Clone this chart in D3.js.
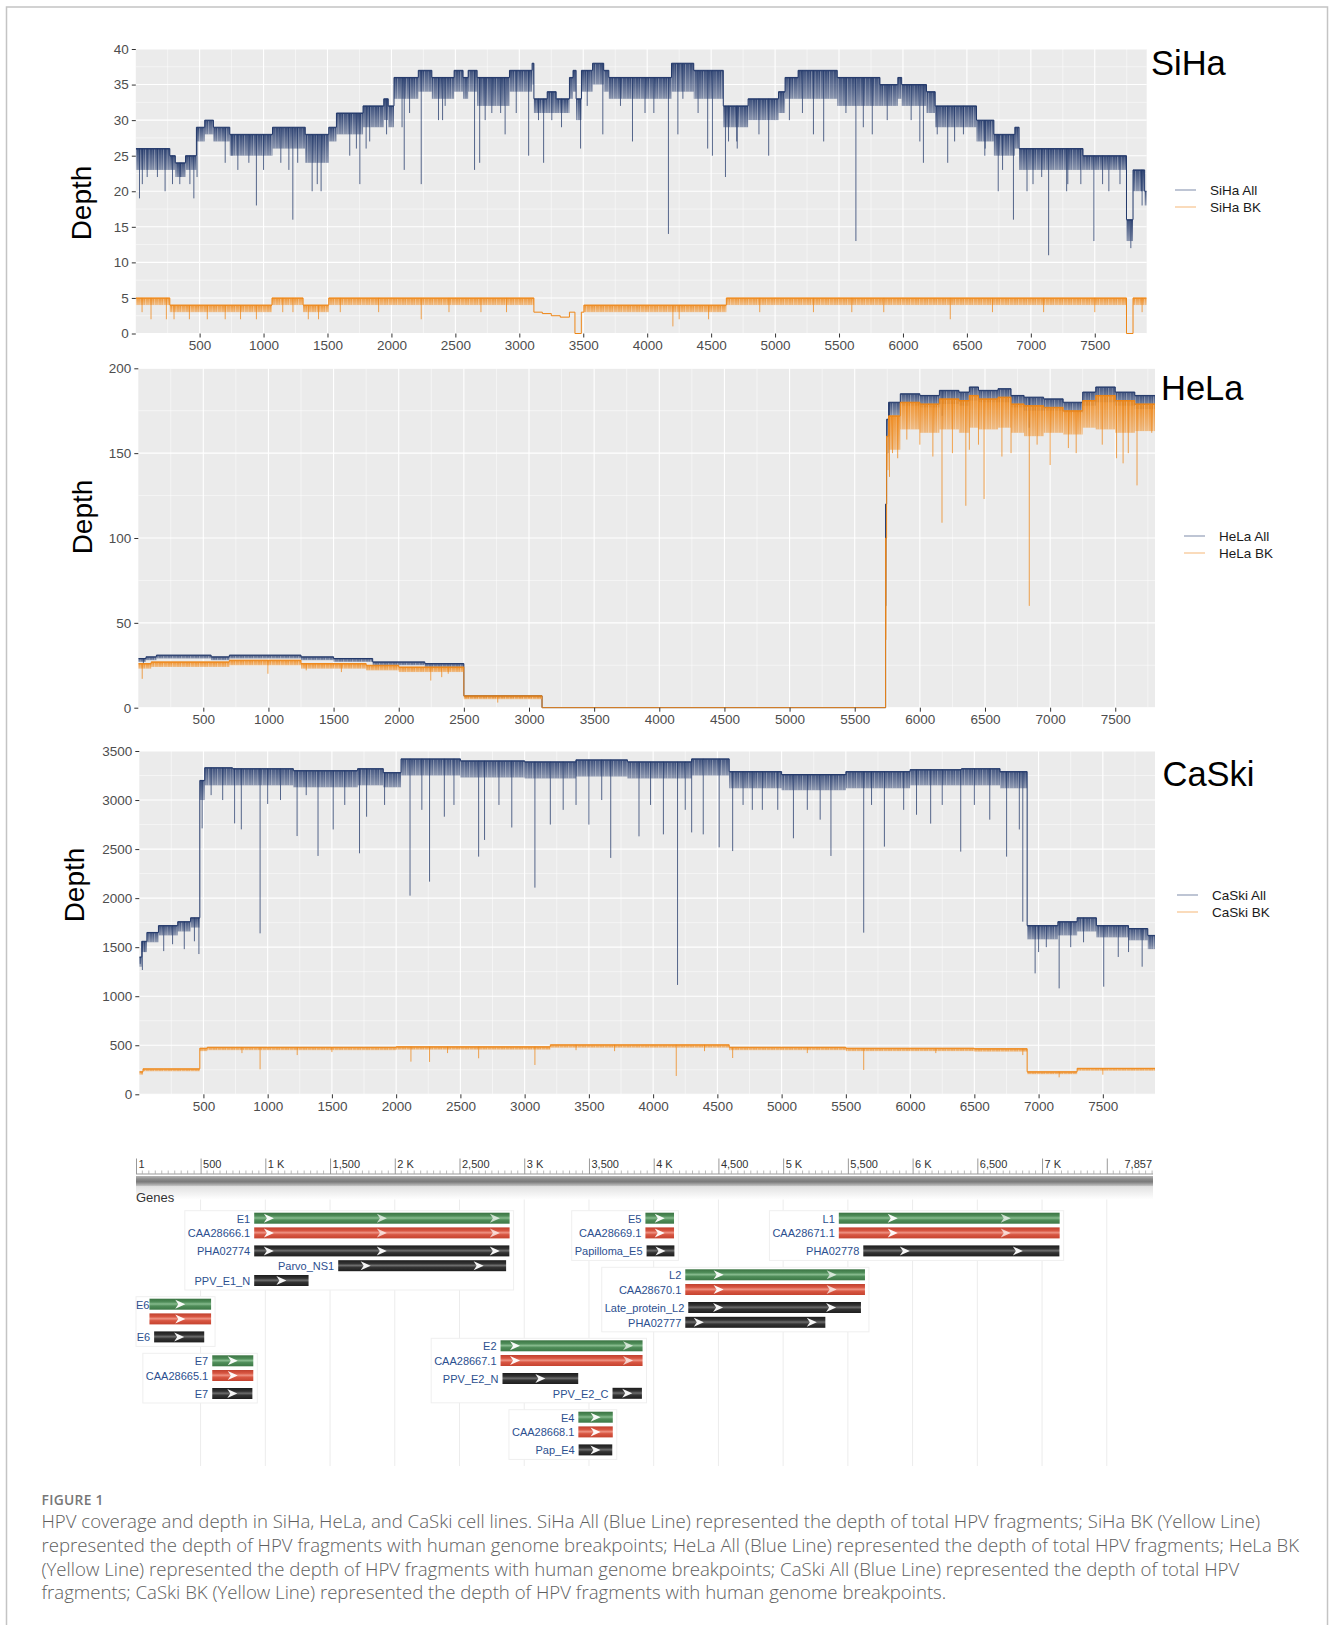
<!DOCTYPE html>
<html lang="en">
<head>
<meta charset="UTF-8" />
<title>HPV coverage and depth</title>
<script src="https://cdn.jsdelivr.net/npm/d3@7"></script>
<style>
  body { margin: 0; background: #fff; }
  svg { display: block; }
  text { font-family: "Liberation Sans", Arial, sans-serif; }
</style>
</head>
<body>
<svg id="fig" width="1332" height="1625"></svg>
<script>
// ---- coverage data ----
// steps: [start position, upper depth, lower depth] ; dips: [position, depth]
const sihaAllSteps = [[1,26,23],[267,25,23],[310,24,22],[390,25,23],[475,29,27],[540,30,28],[608,29,27],[736,28,25],[1070,29,26],[1326,28,24],[1510,29,27],[1570,31,28],[1778,32,29],[1940,33,30],[1975,32,29],[2020,36,33],[2210,37,34],[2316,36,33],[2490,37,34],[2560,36,33],[2600,37,34],[2670,36,32],[2923,37,34],[3100,38,35],[3114,33,31],[3218,34,31],[3288,33,31],[3392,36,33],[3420,37,34],[3444,33,30],[3486,37,34],[3573,38,35],[3660,37,34],[3700,36,33],[4190,38,34],[4364,37,33],[4595,32,29],[4789,33,30],[5027,34,31],[5078,36,33],[5180,37,33],[5486,36,32],[5820,35,32],[5960,36,33],[5990,35,32],[6184,34,31],[6252,32,29],[6575,30,27],[6711,28,25],[6875,29,26],[6908,26,23],[7408,25,23],[7748,16,13],[7799,23,20],[7890,20,18]];
const sihaAllDips = [[30,19],[52,21],[90,22],[170,22],[230,20],[288,21],[345,21],[354,22],[424,21],[455,19],[480,22],[700,24],[753,25],[799,23],[885,24],[944,18],[1000,23],[1135,24],[1198,23],[1229,16],[1267,24],[1380,20],[1420,21],[1450,20],[1674,25],[1726,26],[1753,21],[1802,26],[1830,27],[1962,28],[2083,29],[2100,23],[2142,31],[2233,21],[2368,30],[2400,30],[2420,32],[2650,23],[2690,24],[2733,30],[2785,31],[2854,31],[2889,28],[2976,31],[3073,25],[3150,30],[3190,24],[3254,30],[3330,29],[3479,26],[3531,32],[3653,28],[3791,32],[3885,27],[3983,31],[4052,31],[4166,14],[4240,28],[4279,33],[4398,31],[4473,26],[4510,25],[4612,22],[4636,27],[4700,27],[4704,26],[4874,28],[4950,25],[5112,30],[5214,31],[5300,28],[5380,27],[5554,31],[5632,13],[5690,29],[5760,28],[5877,30],[6064,30],[6132,27],[6160,24],[6268,28],[6350,24],[6404,27],[6473,28],[6640,25],[6643,26],[6745,20],[6779,23],[6864,16],[6970,20],[7017,21],[7085,22],[7139,11],[7280,20],[7289,21],[7391,21],[7493,13],[7561,21],[7610,20],[7697,21],[7782,12],[7867,20],[7870,18]];
const sihaBkSteps = [[1,5,4],[267,4,3],[1066,5,4],[1309,4,3],[1510,5,4],[3114,3,3],[3180,2.8,2.8],[3250,2.5,2.5],[3320,2.3,2.3],[3392,3,3],[3435,0,0],[3485,3,3],[3505,4,3],[4619,5,4],[7748,0,0],[7799,5,4]];
const sihaBkDips = [[50,3],[120,2],[240,2],[300,2],[420,2],[560,2],[700,2],[820,2],[944,2],[1150,3],[1230,3],[1350,2],[1430,2],[1600,3],[1900,3],[2233,2],[2450,3],[2700,3],[2900,3],[4201,1],[4250,2],[4480,2],[4880,3],[5300,3],[5600,3],[5850,3],[6370,2],[6700,3],[7100,3],[7500,3],[7870,3]];

const helaAllSteps = [[1,29,27],[60,30,28],[140,31,29],[560,30,28],[700,31,29],[1250,30,28],[1500,29,27],[1800,27,25],[2200,26,24],[2500,7,6],[3100,0,0],[5737,120,60],[5745,170,150],[5760,180,172],[5850,185,178],[6000,184,177],[6150,187,179],[6300,186,178],[6380,189,181],[6450,187,180],[6600,188,180],[6700,184,177],[6800,183,175],[6950,182,175],[7100,180,174],[7250,186,178],[7350,189,180],[7500,186,178],[7650,184,176]];
const helaAllDips = [[40,26],[5767,160],[6170,172],[6840,165]];
const helaBkSteps = [[1,26,23],[100,27,24],[700,28,25],[1250,26,23],[1750,25,22],[2000,24,21],[2500,7,5],[3100,0,0],[5737,100,40],[5745,160,140],[5760,172,152],[5850,180,164],[6000,179,162],[6150,182,164],[6300,181,162],[6380,184,165],[6450,182,164],[6600,183,165],[6700,179,162],[6800,178,160],[6950,177,162],[7100,175,161],[7250,181,165],[7350,184,164],[7500,181,162],[7650,179,163]];
const helaBkDips = [[31,17],[996,20],[1290,22],[1560,21],[2246,16],[2330,18],[2380,20],[2760,3],[5767,136],[5790,150],[5830,147],[5900,158],[6000,155],[6100,148],[6170,109],[6250,150],[6353,119],[6380,152],[6450,155],[6493,123],[6630,148],[6700,150],[6840,60],[6900,155],[7000,143],[7140,153],[7200,150],[7400,155],[7510,147],[7560,144],[7600,150],[7667,131],[7780,162]];

const caskiAllSteps = [[1,1400,1300],[20,1560,1450],[60,1650,1550],[150,1720,1620],[300,1760,1660],[400,1800,1700],[472,3200,3000],[510,3330,3150],[726,3320,3150],[1200,3300,3130],[1700,3320,3150],[1900,3280,3130],[2038,3420,3250],[2500,3400,3230],[3000,3390,3220],[3400,3410,3240],[3800,3390,3220],[4300,3420,3250],[4592,3290,3120],[5000,3260,3100],[5500,3290,3120],[6000,3310,3150],[6400,3320,3150],[6700,3290,3120],[6911,1720,1580],[7150,1760,1620],[7300,1800,1660],[7450,1720,1600],[7700,1690,1570],[7850,1620,1480]];
const caskiAllDips = [[8,1330],[25,1267],[45,1450],[191,1460],[260,1530],[351,1480],[430,1560],[465,1430],[490,2711],[560,3050],[650,3000],[743,2762],[795,2701],[941,1641],[1000,2960],[1100,3000],[1229,2633],[1300,3050],[1392,2430],[1510,2700],[1600,2950],[1715,2457],[1770,2830],[1910,2950],[2108,2025],[2200,2900],[2260,2168],[2375,2830],[2450,2950],[2642,2423],[2688,2593],[2800,2950],[2900,2720],[3080,2107],[3200,2750],[3300,2900],[3400,2950],[3500,2750],[3600,3000],[3670,2410],[3890,2630],[3980,2950],[4080,2650],[4190,1115],[4250,2900],[4300,2670],[4390,2650],[4514,2518],[4619,2480],[4700,2950],[4772,2900],[4850,2900],[4970,2900],[5092,2610],[5200,2900],[5300,2800],[5384,2430],[5639,1648],[5700,2950],[5800,2525],[5950,2900],[6050,2850],[6160,2760],[6250,2950],[6394,2474],[6500,2950],[6620,2800],[6751,2423],[6850,2700],[6877,1760],[6973,1233],[7000,1450],[7060,1500],[7160,1080],[7250,1500],[7350,1550],[7507,1097],[7620,1400],[7700,1450],[7806,1301]];
const caskiBkSteps = [[1,230,200],[30,260,235],[472,470,440],[530,480,450],[2000,485,455],[3200,505,475],[4592,480,450],[5500,470,440],[6500,465,435],[6911,230,205],[7300,265,240]];
const caskiBkDips = [[800,420],[941,255],[1230,400],[1500,430],[2115,333],[2260,330],[2400,420],[2642,367],[3080,299],[3400,450],[3700,440],[4180,187],[4400,440],[4619,370],[5200,420],[5639,248],[6200,420],[6877,400],[7160,173],[7500,200]];

// ---- axis ticks ----
const xTicks = [500,1000,1500,2000,2500,3000,3500,4000,4500,5000,5500,6000,6500,7000,7500];
const sihaYTicks = [0,5,10,15,20,25,30,35,40];
const helaYTicks = [0,50,100,150,200];
const caskiYTicks = [0,500,1000,1500,2000,2500,3000,3500];

// ---- genome annotation (HPV genes track) ----
const rulerTicks = [1,500,1000,1500,2000,2500,3000,3500,4000,4500,5000,5500,6000,6500,7000,7500];
const rulerLabels = ["1","500","1 K","1,500","2 K","2,500","3 K","3,500","4 K","4,500","5 K","5,500","6 K","6,500","7 K",""];
const genomeLength = 7857;
// [label, start, end, kind, group]
const features = [
  ["E1",914,2887,"gene","E1"],["CAA28666.1",914,2887,"cds","E1"],["PHA02774",914,2885,"dom","E1"],["Parvo_NS1",1563,2860,"dom","E1"],["PPV_E1_N",914,1334,"dom","E1"],
  ["E5",3936,4157,"gene","E5"],["CAA28669.1",3936,4157,"cds","E5"],["Papilloma_E5",3945,4160,"dom","E5"],
  ["L1",5430,7136,"gene","L1"],["CAA28671.1",5430,7136,"cds","L1"],["PHA02778",5619,7134,"dom","L1"],
  ["L2",4244,5632,"gene","L2"],["CAA28670.1",4244,5632,"cds","L2"],["Late_protein_L2",4267,5601,"dom","L2"],["PHA02777",4244,5326,"dom","L2"],
  ["E6",105,581,"gene","E6"],["CAA28664.1",105,581,"cds","E6"],["E6",141,528,"dom","E6"],
  ["E7",590,907,"gene","E7"],["CAA28665.1",590,907,"cds","E7"],["E7",590,900,"dom","E7"],
  ["E2",2817,3914,"gene","E2"],["CAA28667.1",2817,3914,"cds","E2"],["PPV_E2_N",2832,3417,"dom","E2"],["PPV_E2_C",3682,3909,"dom","E2"],
  ["E4",3418,3684,"gene","E4"],["CAA28668.1",3418,3684,"cds","E4"],["Pap_E4",3420,3680,"dom","E4"]
];

const captionHead = "FIGURE 1";
const captionLines = [
  "HPV coverage and depth in SiHa, HeLa, and CaSki cell lines. SiHa All (Blue Line) represented the depth of total HPV fragments; SiHa BK (Yellow Line)",
  "represented the depth of HPV fragments with human genome breakpoints; HeLa All (Blue Line) represented the depth of total HPV fragments; HeLa BK",
  "(Yellow Line) represented the depth of HPV fragments with human genome breakpoints; CaSki All (Blue Line) represented the depth of total HPV",
  "fragments; CaSki BK (Yellow Line) represented the depth of HPV fragments with human genome breakpoints."
];

const navy = "#22386a", orange = "#ee8616";

const svg = d3.select("#fig");
const defs = svg.append("defs");

// hatch overlay that gives the dense per-base look
const hatch = defs.append("pattern").attr("id", "hatch").attr("patternUnits", "userSpaceOnUse")
  .attr("width", 9).attr("height", 6);
[[1.2, 0.4, 1], [3.6, 0.22, 0.8], [5.4, 0.35, 0.7], [7.8, 0.18, 0.9]].forEach(l =>
  hatch.append("rect").attr("x", l[0]).attr("y", 0).attr("width", l[2]).attr("height", 6)
    .attr("fill", "#fff").attr("fill-opacity", l[1]));

// outer frame
svg.append("rect").attr("x", 6.5).attr("y", 7).attr("width", 1321).attr("height", 1700)
  .attr("fill", "none").attr("stroke", "#c4c4c4").attr("stroke-width", 1.5);

function drawPanel(p, idx) {
  const x = d3.scaleLinear().domain(p.xDomain).range([p.left, p.right]);
  const y = d3.scaleLinear().domain([0, p.yTicks[p.yTicks.length - 1]]).range([p.bottom, p.top]);
  const g = svg.append("g");

  g.append("rect").attr("x", p.left).attr("y", p.top)
    .attr("width", p.right - p.left).attr("height", p.bottom - p.top).attr("fill", "#EBEBEB");

  const xMinor = xTicks.map(t => t - 250).concat([xTicks[xTicks.length - 1] + 250])
    .filter(v => v > p.xDomain[0] && v < p.xDomain[1]);
  const yMinor = d3.pairs(p.yTicks).map(d => (d[0] + d[1]) / 2);

  g.selectAll(null).data(xMinor).join("line")
    .attr("x1", d => x(d)).attr("x2", d => x(d)).attr("y1", p.top).attr("y2", p.bottom)
    .attr("stroke", "#fff").attr("stroke-width", 0.5);
  g.selectAll(null).data(yMinor).join("line")
    .attr("y1", d => y(d)).attr("y2", d => y(d)).attr("x1", p.left).attr("x2", p.right)
    .attr("stroke", "#fff").attr("stroke-width", 0.5);
  g.selectAll(null).data(xTicks).join("line")
    .attr("x1", d => x(d)).attr("x2", d => x(d)).attr("y1", p.top).attr("y2", p.bottom)
    .attr("stroke", "#fff").attr("stroke-width", 1.1);
  g.selectAll(null).data(p.yTicks).join("line")
    .attr("y1", d => y(d)).attr("y2", d => y(d)).attr("x1", p.left).attr("x2", p.right)
    .attr("stroke", "#fff").attr("stroke-width", 1.1);

  defs.append("clipPath").attr("id", "clip" + idx).append("rect")
    .attr("x", p.left).attr("y", p.top - 1).attr("width", p.right - p.left).attr("height", p.bottom - p.top + 2);
  const gc = g.append("g").attr("clip-path", "url(#clip" + idx + ")");

  p.series.forEach((s, k) => {
    const gid = `fade${idx}_${k}`;
    const fg = defs.append("linearGradient").attr("id", gid).attr("x1", 0).attr("x2", 0).attr("y1", 0).attr("y2", 1);
    fg.append("stop").attr("offset", "0%").attr("stop-color", s.color).attr("stop-opacity", s.band);
    fg.append("stop").attr("offset", "100%").attr("stop-color", s.color).attr("stop-opacity", s.band * 0.55);

    const last = s.steps[s.steps.length - 1];
    const pts = s.steps.concat([[p.xDomain[1], last[1], last[2]]]);
    const segs = d3.pairs(pts).map(([a, b]) => ({ x0: a[0], x1: b[0], hi: a[1], lo: a[2] }))
      .filter(d => d.hi > d.lo);

    gc.append("g").selectAll(null).data(segs).join("rect")
      .attr("x", d => x(d.x0)).attr("width", d => x(d.x1) - x(d.x0))
      .attr("y", d => y(d.hi)).attr("height", d => y(d.lo) - y(d.hi))
      .attr("fill", `url(#${gid})`);
    gc.append("g").selectAll(null).data(segs).join("rect")
      .attr("x", d => x(d.x0)).attr("width", d => x(d.x1) - x(d.x0))
      .attr("y", d => y(d.hi) + 1).attr("height", d => Math.max(0, y(d.lo) - y(d.hi) - 1))
      .attr("fill", "url(#hatch)");

    const line = d3.line().curve(d3.curveStepAfter).x(d => x(d[0])).y(d => y(d[1]));
    gc.append("path").attr("d", line(pts)).attr("fill", "none")
      .attr("stroke", s.color).attr("stroke-width", 1);
    const bis = d3.bisector(d => d[0]).right;
    gc.selectAll(null).data(s.dips).join("line")
      .attr("x1", d => x(d[0])).attr("x2", d => x(d[0]))
      .attr("y1", d => y(pts[Math.max(0, bis(pts, d[0]) - 1)][1]))
      .attr("y2", d => y(d[1]))
      .attr("stroke", s.color).attr("stroke-width", 1).attr("stroke-opacity", 0.75);
  });

  const ax = d3.axisBottom(x).tickValues(xTicks).tickSize(4).tickPadding(3).tickFormat(d3.format("d"));
  const gx = g.append("g").attr("transform", `translate(0,${p.bottom})`).call(ax);
  const ay = d3.axisLeft(y).tickValues(p.yTicks).tickSize(4).tickPadding(3).tickFormat(d3.format("d"));
  const gy = g.append("g").attr("transform", `translate(${p.left},0)`).call(ay);
  [gx, gy].forEach(a => {
    a.select(".domain").remove();
    a.selectAll(".tick line").attr("stroke", "#333");
    a.selectAll(".tick text").attr("fill", "#4d4d4d").style("font-size", "13.5px")
      .style("font-family", "'Liberation Sans', Arial, sans-serif");
  });

  g.append("text").attr("transform", `translate(${p.depth[0]},${p.depth[1]}) rotate(-90)`)
    .attr("text-anchor", "middle").attr("dominant-baseline", "central")
    .style("font-size", "28px").attr("fill", "#000").text("Depth");

  g.append("text").attr("x", p.title[0]).attr("y", p.title[1])
    .style("font-size", "34.5px").attr("fill", "#000").text(p.name);

  p.series.forEach((s, i) => {
    const ly = p.legend[1] + i * 17;
    g.append("line").attr("x1", p.legend[0]).attr("x2", p.legend[0] + 21).attr("y1", ly).attr("y2", ly)
      .attr("stroke", s.color).attr("stroke-opacity", 0.45).attr("stroke-width", 1.3);
    g.append("text").attr("x", p.legend[0] + 35).attr("y", ly).attr("dominant-baseline", "central")
      .style("font-size", "13.5px").attr("fill", "#1a1a1a").text(s.label);
  });
}

const panels = [
  { name: "SiHa", left: 135.8, right: 1146.7, top: 49, bottom: 333.5, xDomain: [1, 7906], yTicks: sihaYTicks,
    depth: [81, 203], title: [1151, 75], legend: [1175, 190],
    series: [
      { label: "SiHa All", steps: sihaAllSteps, dips: sihaAllDips, color: navy, band: 0.95 },
      { label: "SiHa BK", steps: sihaBkSteps, dips: sihaBkDips, color: orange, band: 0.9 }
    ] },
  { name: "HeLa", left: 138.3, right: 1155, top: 368.3, bottom: 707.7, xDomain: [1, 7805], yTicks: helaYTicks,
    depth: [82, 517], title: [1161, 400], legend: [1184, 536],
    series: [
      { label: "HeLa All", steps: helaAllSteps, dips: helaAllDips, color: navy, band: 0.9 },
      { label: "HeLa BK", steps: helaBkSteps, dips: helaBkDips, color: orange, band: 0.95 }
    ] },
  { name: "CaSki", left: 139.3, right: 1155, top: 751, bottom: 1094.3, xDomain: [1, 7906], yTicks: caskiYTicks,
    depth: [74, 885], title: [1162.5, 786], legend: [1177, 895],
    series: [
      { label: "CaSki All", steps: caskiAllSteps, dips: caskiAllDips, color: navy, band: 0.9 },
      { label: "CaSki BK", steps: caskiBkSteps, dips: caskiBkDips, color: orange, band: 0.9 }
    ] }
];
panels.forEach(drawPanel);

// ---- genes track ----
const gx = d3.scaleLinear().domain([1, genomeLength]).range([136, 1153]);
const gt = svg.append("g");

gt.selectAll(null).data(rulerTicks.slice(1)).join("line")
  .attr("x1", d => gx(d)).attr("x2", d => gx(d)).attr("y1", 1188).attr("y2", 1466)
  .attr("stroke", "#ececec").attr("stroke-width", 1);

gt.append("line").attr("x1", gx(1)).attr("x2", gx(genomeLength)).attr("y1", 1174).attr("y2", 1174)
  .attr("stroke", "#999");
gt.selectAll(null).data(d3.range(50, genomeLength, 50).filter(v => v % 500 !== 0)).join("line")
  .attr("x1", d => gx(d)).attr("x2", d => gx(d)).attr("y1", 1170.5).attr("y2", 1174)
  .attr("stroke", "#aaa").attr("stroke-width", 0.8);
gt.selectAll(null).data(rulerTicks).join("line")
  .attr("x1", d => gx(d) + 0.5).attr("x2", d => gx(d) + 0.5).attr("y1", 1158.5).attr("y2", 1174)
  .attr("stroke", "#999").attr("stroke-width", 1);
gt.selectAll(null).data(rulerTicks).join("text")
  .attr("x", d => gx(d) + 2.5).attr("y", 1167.5)
  .style("font-size", "11px").attr("fill", "#333").text((d, i) => rulerLabels[i]);
gt.append("text").attr("x", gx(genomeLength) - 1).attr("y", 1167.5).attr("text-anchor", "end")
  .style("font-size", "11px").attr("fill", "#333").text(d3.format(",")(genomeLength));

const barGrad = defs.append("linearGradient").attr("id", "seqbar").attr("x1", 0).attr("x2", 0).attr("y1", 0).attr("y2", 1);
[["0%", "#b5b5b5"], ["30%", "#8a8a8a"], ["55%", "#7a7a7a"], ["80%", "#a8a8a8"], ["100%", "#cfcfcf"]]
  .forEach(s => barGrad.append("stop").attr("offset", s[0]).attr("stop-color", s[1]));
const shadeGrad = defs.append("linearGradient").attr("id", "seqshade").attr("x1", 0).attr("x2", 0).attr("y1", 0).attr("y2", 1);
[["0%", "#e2e2e2"], ["100%", "#ffffff"]].forEach(s => shadeGrad.append("stop").attr("offset", s[0]).attr("stop-color", s[1]));
gt.append("rect").attr("x", gx(1)).attr("y", 1186.5).attr("width", gx(genomeLength) - gx(1)).attr("height", 13)
  .attr("fill", "url(#seqshade)");
gt.append("rect").attr("x", gx(1)).attr("y", 1176).attr("width", gx(genomeLength) - gx(1)).attr("height", 10.5)
  .attr("fill", "url(#seqbar)");
gt.append("text").attr("x", 136).attr("y", 1197).attr("dominant-baseline", "central")
  .style("font-size", "13px").attr("fill", "#333").text("Genes");

const kindColors = {
  gene: ["#3a7342", "#4f8d59", "#86ba8d", "#4f8d59", "#3d7846"],
  cds: ["#c0402e", "#d85642", "#ee9282", "#d85642", "#c5432f"],
  dom: ["#1c1c1c", "#333", "#6c6c6c", "#333", "#1e1e1e"]
};
Object.entries(kindColors).forEach(([k, c]) => {
  const lg = defs.append("linearGradient").attr("id", "bar-" + k).attr("x1", 0).attr("x2", 0).attr("y1", 0).attr("y2", 1);
  ["0%", "30%", "48%", "66%", "100%"].forEach((o, i) => lg.append("stop").attr("offset", o).attr("stop-color", c[i]));
});

const groupTop = { E1: 1212.7, E5: 1212.7, L1: 1212.7, L2: 1269.3, E6: 1298.7, E7: 1355.3, E2: 1340.3, E4: 1411.7 };
const rowOffset = [0, 14.7, 32.7, 47.5, 62.3];
const barH = 11;
const gbox = gt.append("g");
const gbar = gt.append("g");

d3.groups(features, d => d[4]).forEach(([grp, rows]) => {
  let minX = Infinity, maxX = -Infinity, maxY = 0;
  rows.forEach((f, i) => {
    const x0 = gx(f[1]), x1 = gx(f[2]);
    const y0 = groupTop[grp] + rowOffset[i];
    gbar.append("rect").attr("x", x0).attr("y", y0).attr("width", x1 - x0).attr("height", barH)
      .attr("fill", `url(#bar-${f[3]})`);
    const len = x1 - x0, n = Math.floor(len / 113) + 1, cx = (x0 + x1) / 2;
    d3.range(n).forEach(k => {
      const ax = cx + (k - (n - 1) / 2) * 113, ay = y0 + barH / 2;
      gbar.append("path")
        .attr("d", `M${ax - 5},${ay - 4.5}L${ax + 5},${ay}L${ax - 5},${ay + 4.5}L${ax - 2},${ay}Z`)
        .attr("fill", "#fff").attr("fill-opacity", f[3] === "dom" ? 0.95 : (k === 0 ? 0.95 : 0.7));
    });
    const t = gbar.append("text").attr("y", y0 + barH / 2 + 0.5).attr("dominant-baseline", "central")
      .attr("text-anchor", "end").style("font-size", "11px").attr("fill", "#2c4f8f").text(f[0]);
    const w = t.node().getComputedTextLength();
    let tx = x0 - 4;
    if (tx - w < 136) tx = 136 + w;
    if (x0 - 136 < w * 0.5) { t.remove(); } else {
      t.attr("x", tx);
      minX = Math.min(minX, tx - w);
    }
    minX = Math.min(minX, x0);
    maxX = Math.max(maxX, x1);
    maxY = y0 + barH;
  });
  gbox.append("rect").attr("x", Math.max(136, minX - 3)).attr("y", groupTop[grp] - 2)
    .attr("width", maxX + 4 - Math.max(136, minX - 3)).attr("height", maxY + 4 - groupTop[grp] + 2)
    .attr("fill", "#fff").attr("stroke", "#efefef").attr("stroke-width", 1);
});

// ---- caption ----
svg.append("text").attr("x", 41.5).attr("y", 1504.5)
  .style("font-family", "'Open Sans', Lato, sans-serif").style("font-size", "13.8px").style("font-weight", "600")
  .style("letter-spacing", "0.3px").attr("fill", "#777").text(captionHead);
svg.selectAll(null).data(captionLines).join("text")
  .attr("x", 41.5).attr("y", (d, i) => 1528 + i * 23.8)
  .style("font-family", "'Open Sans', Lato, sans-serif").style("font-size", "18.6px").style("font-weight", "300")
  .attr("fill", "#5e5e5e").text(d => d);
</script>
</body>
</html>
